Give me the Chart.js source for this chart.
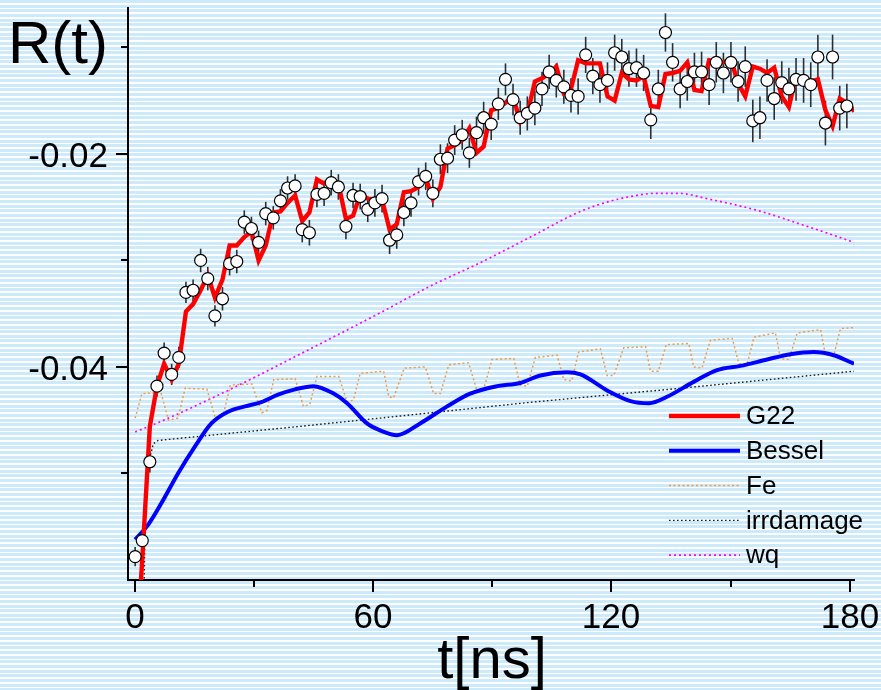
<!DOCTYPE html>
<html>
<head>
<meta charset="utf-8">
<title>R(t)</title>
<script src="https://cdn.jsdelivr.net/npm/chart.js@4.4.1/dist/chart.umd.min.js"></script>
<style>
    html, body { margin: 0; padding: 0; }
    body {
        width: 881px;
        height: 690px;
        overflow: hidden;
        background: repeating-linear-gradient(to bottom, #cdeafb 0px, #cdeafb 3px, #ffffff 3px, #ffffff 4.65px);
    }
    canvas { display: block; }
</style>
</head>
<body>
<canvas id="rtChart" width="881" height="690"></canvas>
<script>
// time axis of the measurement (ns)
const t = [
    0, 1.8, 3.7, 5.5, 7.3, 9.2, 11.0, 12.8, 14.6, 16.5,
    18.3, 20.1, 22.0, 23.8, 25.6, 27.5, 29.3, 31.1, 32.9, 34.8,
    36.6, 38.4, 40.3, 42.1, 43.9, 45.8, 47.6, 49.4, 51.2, 53.1,
    54.9, 56.7, 58.6, 60.4, 62.2, 64.1, 65.9, 67.7, 69.5, 71.4,
    73.2, 75.0, 76.9, 78.7, 80.5, 82.4, 84.2, 86.0, 87.8, 89.7,
    91.5, 93.3, 95.2, 97.0, 98.8, 100.7, 102.5, 104.3, 106.1, 108.0,
    109.8, 111.6, 113.5, 115.3, 117.1, 119.0, 120.8, 122.6, 124.4, 126.3,
    128.1, 129.9, 131.8, 133.6, 135.4, 137.3, 139.1, 140.9, 142.7, 144.6,
    146.4, 148.2, 150.1, 151.9, 153.7, 155.6, 157.4, 159.2, 161.0, 162.9,
    164.7, 166.5, 168.4, 170.2, 172.0, 173.9, 175.7, 177.5, 179.3, 181.2
];

// measured R(t)
const measR = [
    -0.0578, -0.0563, -0.0489, -0.0418, -0.0387, -0.0407, -0.0391, -0.0330, -0.0328, -0.0300,
    -0.0317, -0.0352, -0.0336, -0.0303, -0.0301, -0.0264, -0.0270, -0.0283, -0.0256, -0.0260,
    -0.0244, -0.0232, -0.0230, -0.0271, -0.0274, -0.0238, -0.0237, -0.0227, -0.0231, -0.0268,
    -0.0239, -0.0240, -0.0252, -0.0246, -0.0242, -0.0281, -0.0276, -0.0255, -0.0246, -0.0226,
    -0.0221, -0.0237, -0.0205, -0.0204, -0.0187, -0.0182, -0.0199, -0.0180, -0.0166, -0.0172,
    -0.0153, -0.0130, -0.0149, -0.0166, -0.0162, -0.0157, -0.0139, -0.0123, -0.0131, -0.0137,
    -0.0145, -0.0146, -0.0107, -0.0127, -0.0135, -0.0131, -0.0105, -0.0109, -0.0120, -0.0119,
    -0.0124, -0.0168, -0.0139, -0.0086, -0.0114, -0.0139, -0.0132, -0.0123, -0.0123, -0.0135,
    -0.0114, -0.0124, -0.0114, -0.0132, -0.0118, -0.0169, -0.0166, -0.0131, -0.0148, -0.0133,
    -0.0139, -0.0130, -0.0131, -0.0135, -0.0109, -0.0171, -0.0109, -0.0157, -0.0155
];

// error of each measured point
const measErr = [
    0.0009, 0.0009, 0.0010, 0.0010, 0.0010, 0.0010, 0.0010, 0.0010, 0.0010, 0.0011,
    0.0011, 0.0010, 0.0011, 0.0011, 0.0011, 0.0011, 0.0011, 0.0011, 0.0011, 0.0011,
    0.0011, 0.0011, 0.0011, 0.0012, 0.0012, 0.0012, 0.0012, 0.0012, 0.0012, 0.0012,
    0.0012, 0.0012, 0.0012, 0.0013, 0.0013, 0.0013, 0.0013, 0.0013, 0.0013, 0.0013,
    0.0013, 0.0013, 0.0014, 0.0014, 0.0014, 0.0014, 0.0014, 0.0015, 0.0015, 0.0015,
    0.0015, 0.0015, 0.0015, 0.0016, 0.0016, 0.0016, 0.0016, 0.0016, 0.0016, 0.0016,
    0.0016, 0.0017, 0.0017, 0.0017, 0.0017, 0.0017, 0.0017, 0.0017, 0.0017, 0.0018,
    0.0017, 0.0018, 0.0018, 0.0018, 0.0018, 0.0018, 0.0018, 0.0018, 0.0019, 0.0019,
    0.0019, 0.0019, 0.0019, 0.0019, 0.0019, 0.0020, 0.0020, 0.0020, 0.0020, 0.0020,
    0.0020, 0.0020, 0.0021, 0.0021, 0.0021, 0.0021, 0.0021, 0.0021, 0.0021
];

// G22 fit, same time grid
const g22R = [
    -0.0690, -0.0580, -0.0456, -0.0418, -0.0397, -0.0412, -0.0397, -0.0348, -0.0341, -0.0328,
    -0.0314, -0.0335, -0.0318, -0.0286, -0.0286, -0.0278, -0.0273, -0.0300, -0.0286, -0.0255,
    -0.0254, -0.0246, -0.0239, -0.0263, -0.0255, -0.0224, -0.0228, -0.0227, -0.0228, -0.0261,
    -0.0258, -0.0238, -0.0242, -0.0243, -0.0243, -0.0271, -0.0266, -0.0236, -0.0235, -0.0231,
    -0.0223, -0.0242, -0.0231, -0.0195, -0.0192, -0.0187, -0.0176, -0.0199, -0.0193, -0.0159,
    -0.0157, -0.0152, -0.0146, -0.0170, -0.0163, -0.0132, -0.0129, -0.0125, -0.0118, -0.0143,
    -0.0139, -0.0112, -0.0115, -0.0115, -0.0115, -0.0146, -0.0150, -0.0124, -0.0130, -0.0131,
    -0.0127, -0.0155, -0.0156, -0.0125, -0.0124, -0.0122, -0.0114, -0.0140, -0.0141, -0.0112,
    -0.0113, -0.0114, -0.0111, -0.0134, -0.0146, -0.0118, -0.0120, -0.0124, -0.0119, -0.0146,
    -0.0156, -0.0127, -0.0129, -0.0132, -0.0130, -0.0159, -0.0174, -0.0148, -0.0152, -0.0160
];

// Bessel curve
const besselT = [0, 3.3, 6.6, 10.8, 15.0, 19.2, 23.4, 27.7, 31.8, 36.0, 40.3, 44.9, 50.0, 53.4, 58.4, 62.0, 66.0,
    71.8, 78.6, 84.4, 91.2, 97.0, 102.1, 108.8, 112.2, 118.9, 124.8, 129.5, 134.0, 140.7, 146.6, 152.5, 159.2,
    165.1, 171.0, 176.0, 181.1];
const besselR = [-0.0562, -0.0548, -0.0528, -0.0500, -0.0475, -0.0453, -0.0442, -0.0437, -0.0433, -0.0426, -0.0421,
    -0.0418, -0.0425, -0.0434, -0.0453, -0.0460, -0.0464, -0.0453, -0.0437, -0.0425, -0.0418, -0.0415, -0.0408,
    -0.0405, -0.0407, -0.0422, -0.0432, -0.0434, -0.0428, -0.0414, -0.0403, -0.0399, -0.0393, -0.0388, -0.0386,
    -0.0389, -0.0397];

// Fe contribution
const feT = [0, 1.7, 6.5, 8.4, 10.8, 12.6, 18.1, 20.2, 22.2, 24.0, 29.4, 31.9, 33.2, 34.9, 40.3, 42.4, 44.0,
    45.8, 51.3, 53.4, 55.0, 56.7, 62.6, 63.9, 65.1, 67.8, 73.1, 75.2, 76.9, 79.0, 84.0, 86.1, 87.8, 89.9, 95.4,
    97.0, 98.8, 100.8, 106.3, 108.0, 110.0, 111.7, 117.2, 118.9, 120.6, 123.1, 128.6, 129.8, 131.8, 133.8,
    139.5, 140.7, 142.8, 144.9, 150.4, 152.1, 154.2, 155.9, 161.3, 162.6, 164.7, 166.8, 172.7, 173.9, 176.0,
    177.7, 181.1];
const feR = [-0.0448, -0.0425, -0.0424, -0.0450, -0.0448, -0.0420, -0.0421, -0.0448, -0.0445, -0.0417, -0.0416,
    -0.0443, -0.0441, -0.0412, -0.0411, -0.0437, -0.0435, -0.0409, -0.0409, -0.0433, -0.0431, -0.0406, -0.0404,
    -0.0428, -0.0429, -0.0401, -0.0400, -0.0425, -0.0425, -0.0398, -0.0396, -0.0422, -0.0421, -0.0393, -0.0392,
    -0.0417, -0.0418, -0.0391, -0.0389, -0.0412, -0.0413, -0.0386, -0.0383, -0.0408, -0.0408, -0.0382, -0.0381,
    -0.0404, -0.0404, -0.0379, -0.0378, -0.0400, -0.0401, -0.0375, -0.0373, -0.0397, -0.0397, -0.0372, -0.0368,
    -0.0392, -0.0393, -0.0368, -0.0365, -0.0389, -0.0389, -0.0364, -0.0363];

// irradiation damage term
const irrT = [1.8, 2.6, 3.7, 4.6, 5.8, 43.6, 66.8, 100.0, 137.4, 181.1];
const irrR = [-0.0700, -0.0530, -0.0485, -0.0472, -0.0469, -0.0455, -0.0446, -0.0433, -0.0420, -0.0404];

// wq term
const wqT = [0, 6.6, 23.4, 43.6, 61.8, 74.4, 87.0, 99.6, 112.2, 120.0, 124.8, 131.0, 137.0, 144.1, 156.7, 169.3, 181.1];
const wqR = [-0.0461, -0.0451, -0.0422, -0.0384, -0.0349, -0.0324, -0.0302, -0.0278, -0.0254, -0.0244, -0.0240,
    -0.0237, -0.0237, -0.0242, -0.0253, -0.0268, -0.0283];

// axis ticks
const xTicks = [0, 30, 60, 90, 120, 150, 180];
const xLabeled = [0, 60, 120, 180];
const yTicks = [-0.05, -0.04, -0.03, -0.02, -0.01];
const yLabeled = [-0.04, -0.02];

const pts = (xs, ys) => ys.map((y, i) => ({ x: xs[i], y: y }));
const isLabeled = (list, v) => list.some(l => Math.abs(l - v) < 1e-9);

const FONT = "'Liberation Sans', Arial, sans-serif";

// vertical error bars under the measured points
const errorBars = {
    id: 'errorBars',
    beforeDatasetsDraw(chart) {
        const { ctx, chartArea: a, scales: { x, y } } = chart;
        ctx.save();
        ctx.beginPath();
        ctx.rect(a.left, a.top, a.right - a.left, a.bottom - a.top);
        ctx.clip();
        ctx.strokeStyle = '#2e2e2e';
        ctx.lineWidth = 1.6;
        measR.forEach((v, i) => {
            const px = x.getPixelForValue(t[i]);
            ctx.beginPath();
            ctx.moveTo(px, y.getPixelForValue(v - measErr[i]));
            ctx.lineTo(px, y.getPixelForValue(v + measErr[i]));
            ctx.stroke();
        });
        ctx.restore();
    }
};

// outward tick marks (long ones carry a label) and the tick labels
const tickMarks = {
    id: 'tickMarks',
    afterDraw(chart) {
        const { ctx, chartArea: a, scales: { x, y } } = chart;
        ctx.save();
        ctx.strokeStyle = '#000';
        ctx.fillStyle = '#000';
        ctx.lineWidth = 2;
        ctx.font = '35px ' + FONT;
        ctx.textBaseline = 'alphabetic';

        ctx.textAlign = 'center';
        xTicks.forEach(v => {
            const px = Math.round(x.getPixelForValue(v));
            const major = isLabeled(xLabeled, v);
            ctx.beginPath();
            ctx.moveTo(px, a.bottom);
            ctx.lineTo(px, a.bottom + (major ? 12 : 7));
            ctx.stroke();
            if (major) ctx.fillText(String(v), px, 628);
        });

        ctx.textAlign = 'right';
        yTicks.forEach(v => {
            const py = Math.round(y.getPixelForValue(v));
            const major = isLabeled(yLabeled, v);
            ctx.beginPath();
            ctx.moveTo(a.left, py);
            ctx.lineTo(a.left - (major ? 12 : 7), py);
            ctx.stroke();
            if (major) ctx.fillText(v.toFixed(2), 108, py + 12.5);
        });
        ctx.restore();
    }
};

// axis titles and the legend box in the lower right
const annotations = {
    id: 'annotations',
    afterDraw(chart) {
        const { ctx } = chart;
        ctx.save();
        ctx.fillStyle = '#000';
        ctx.textBaseline = 'alphabetic';

        ctx.font = '60px ' + FONT;
        ctx.textAlign = 'left';
        ctx.fillText('R(t)', 8, 63);

        ctx.font = '58px ' + FONT;
        ctx.textAlign = 'center';
        ctx.fillText('t[ns]', 492, 678);

        ctx.font = '26px ' + FONT;
        ctx.textAlign = 'left';
        ctx.textBaseline = 'middle';
        let rowY = 416;
        chart.data.datasets.forEach(ds => {
            if (!ds.inLegend) return;
            ctx.beginPath();
            ctx.strokeStyle = ds.borderColor;
            ctx.lineWidth = ds.borderWidth;
            ctx.setLineDash(ds.borderDash || []);
            ctx.moveTo(669, rowY);
            ctx.lineTo(740, rowY);
            ctx.stroke();
            ctx.setLineDash([]);
            ctx.fillText(ds.label, 746, rowY + 1);
            rowY += 34.8;
        });
        ctx.restore();
    }
};

const ctx = document.getElementById('rtChart').getContext('2d');
const rtChart = new Chart(ctx, {
    type: 'line',
    data: {
        datasets: [
            {
                label: 'G22',
                data: pts(t, g22R),
                borderColor: '#ff0000',
                borderWidth: 4.4,
                pointRadius: 0,
                tension: 0,
                inLegend: true,
                order: 1
            },
            {
                label: 'Bessel',
                data: pts(besselT, besselR),
                borderColor: '#0000ff',
                borderWidth: 4,
                pointRadius: 0,
                cubicInterpolationMode: 'monotone',
                inLegend: true,
                order: 1
            },
            {
                label: 'Fe',
                data: pts(feT, feR),
                borderColor: '#f39a3e',
                borderWidth: 1.5,
                borderDash: [2, 2.5],
                pointRadius: 0,
                tension: 0,
                inLegend: true,
                order: 3
            },
            {
                label: 'irrdamage',
                data: pts(irrT, irrR),
                borderColor: '#1c1c1c',
                borderWidth: 1.4,
                borderDash: [1.6, 2.4],
                pointRadius: 0,
                tension: 0,
                inLegend: true,
                order: 3
            },
            {
                label: 'wq',
                data: pts(wqT, wqR),
                borderColor: '#ff00ff',
                borderWidth: 1.7,
                borderDash: [2, 3],
                pointRadius: 0,
                cubicInterpolationMode: 'monotone',
                inLegend: true,
                order: 3
            },
            {
                label: 'data',
                data: pts(t, measR),
                showLine: false,
                pointRadius: 6,
                pointBackgroundColor: '#ffffff',
                pointBorderColor: '#000000',
                pointBorderWidth: 1.2,
                inLegend: false,
                order: 0
            }
        ]
    },
    options: {
        responsive: false,
        animation: false,
        devicePixelRatio: 1,
        layout: { padding: { top: 8, right: 27, left: 0, bottom: 0 } },
        plugins: {
            legend: { display: false },
            tooltip: { enabled: false }
        },
        scales: {
            x: {
                type: 'linear',
                min: -1.8,
                max: 181.1,
                afterBuildTicks: scale => { scale.ticks = xTicks.map(v => ({ value: v })); },
                afterFit: scale => { scale.height = 110; },
                grid: { display: false },
                border: { display: true, color: '#000', width: 2 },
                ticks: { display: false }
            },
            y: {
                type: 'linear',
                min: -0.06,
                max: -0.0063,
                afterBuildTicks: scale => { scale.ticks = yTicks.map(v => ({ value: v })); },
                afterFit: scale => { scale.width = 128; },
                grid: { display: false },
                border: { display: true, color: '#000', width: 2 },
                ticks: { display: false }
            }
        }
    },
    plugins: [errorBars, tickMarks, annotations]
});
</script>
</body>
</html>
